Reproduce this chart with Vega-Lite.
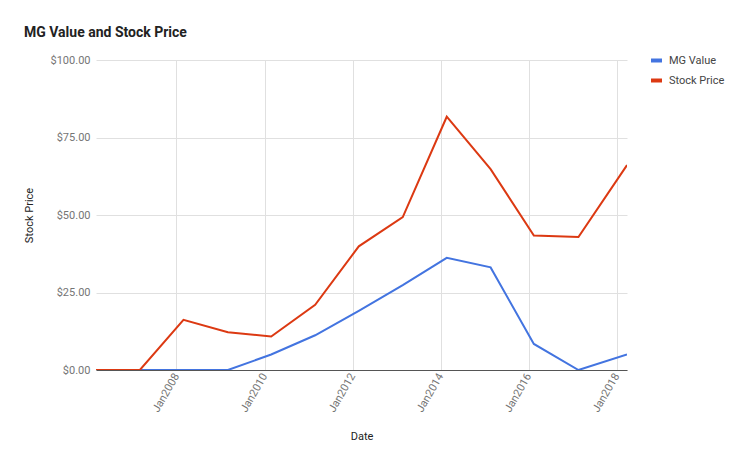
{
  "$schema": "https://vega.github.io/schema/vega-lite/v6.json",
  "width": 531,
  "height": 310,
  "autosize": "none",
  "padding": {"left": 96, "top": 60, "right": 123, "bottom": 97},
  "background": "white",
  "title": {
    "text": "MG Value and Stock Price",
    "anchor": "start",
    "frame": "group",
    "dx": -72,
    "offset": 13,
    "font": "Roboto",
    "fontSize": 14,
    "fontWeight": "bold",
    "color": "#222222"
  },
  "data": {
    "values": [
      {"date": "2006-03-04", "series": "MG Value", "value": 0},
      {"date": "2007-03-03", "series": "MG Value", "value": 0},
      {"date": "2008-02-28", "series": "MG Value", "value": 0},
      {"date": "2009-03-03", "series": "MG Value", "value": 0},
      {"date": "2010-02-25", "series": "MG Value", "value": 5.0},
      {"date": "2011-02-25", "series": "MG Value", "value": 11.2},
      {"date": "2012-02-22", "series": "MG Value", "value": 19.1},
      {"date": "2013-02-21", "series": "MG Value", "value": 27.4},
      {"date": "2014-02-21", "series": "MG Value", "value": 36.2},
      {"date": "2015-02-20", "series": "MG Value", "value": 33.1},
      {"date": "2016-02-14", "series": "MG Value", "value": 8.4},
      {"date": "2017-02-18", "series": "MG Value", "value": 0},
      {"date": "2018-03-28", "series": "MG Value", "value": 5.0},
      {"date": "2006-03-04", "series": "Stock Price", "value": 0},
      {"date": "2007-03-03", "series": "Stock Price", "value": 0},
      {"date": "2008-02-28", "series": "Stock Price", "value": 16.2},
      {"date": "2009-03-03", "series": "Stock Price", "value": 12.2},
      {"date": "2010-02-25", "series": "Stock Price", "value": 10.8},
      {"date": "2011-02-25", "series": "Stock Price", "value": 21.0},
      {"date": "2012-02-22", "series": "Stock Price", "value": 39.9},
      {"date": "2013-02-21", "series": "Stock Price", "value": 49.3},
      {"date": "2014-02-21", "series": "Stock Price", "value": 81.7},
      {"date": "2015-02-20", "series": "Stock Price", "value": 64.8},
      {"date": "2016-02-14", "series": "Stock Price", "value": 43.4},
      {"date": "2017-02-18", "series": "Stock Price", "value": 42.9},
      {"date": "2018-03-28", "series": "Stock Price", "value": 66.1}
    ]
  },
  "mark": {"type": "line", "strokeWidth": 2, "clip": true},
  "encoding": {
    "x": {
      "field": "date",
      "type": "temporal",
      "scale": {"type": "utc", "nice": false},
      "axis": {
        "title": "Date",
        "labelExpr": "utcFormat(datum.value, '%b') + utcFormat(datum.value, '%Y')",
        "values": [
          {"year": 2008, "month": 1, "date": 1, "utc": true},
          {"year": 2010, "month": 1, "date": 1, "utc": true},
          {"year": 2012, "month": 1, "date": 1, "utc": true},
          {"year": 2014, "month": 1, "date": 1, "utc": true},
          {"year": 2016, "month": 1, "date": 1, "utc": true},
          {"year": 2018, "month": 1, "date": 1, "utc": true}
        ],
        "labelAngle": -60,
        "labelAlign": "right",
        "labelBaseline": "middle",
        "labelPadding": 4,
        "ticks": false,
        "domain": true,
        "domainColor": "#555555",
        "domainWidth": 1.2,
        "grid": true,
        "gridColor": "#e0e0e0",
        "labelFont": "Roboto",
        "labelFontSize": 11,
        "labelColor": "#757575",
        "titleFont": "Roboto",
        "titleFontSize": 11,
        "titleFontWeight": "normal",
        "titleColor": "#222222",
        "titlePadding": 17,
        "labelOverlap": false,
        "labelFlush": false
      }
    },
    "y": {
      "field": "value",
      "type": "quantitative",
      "scale": {"domain": [0, 100], "nice": false},
      "axis": {
        "title": "Stock Price",
        "format": "$,.2f",
        "values": [0, 25, 50, 75, 100],
        "ticks": false,
        "domain": false,
        "grid": true,
        "gridColor": "#e0e0e0",
        "labelPadding": 6,
        "labelFont": "Roboto",
        "labelFontSize": 11,
        "labelColor": "#757575",
        "titleFont": "Roboto",
        "titleFontSize": 11,
        "titleFontWeight": "normal",
        "titleColor": "#222222",
        "titlePadding": 16
      }
    },
    "color": {
      "field": "series",
      "type": "nominal",
      "scale": {"domain": ["MG Value", "Stock Price"], "range": ["#4374e0", "#dc3912"]},
      "legend": {
        "title": null,
        "orient": "none",
        "legendX": 553,
        "legendY": -7,
        "symbolType": "stroke",
        "symbolStrokeWidth": 4,
        "symbolSize": 120,
        "labelFont": "Roboto",
        "labelFontSize": 11,
        "labelColor": "#444444",
        "labelOffset": 5,
        "rowPadding": 3
      }
    }
  },
  "config": {
    "view": {"stroke": null}
  }
}
